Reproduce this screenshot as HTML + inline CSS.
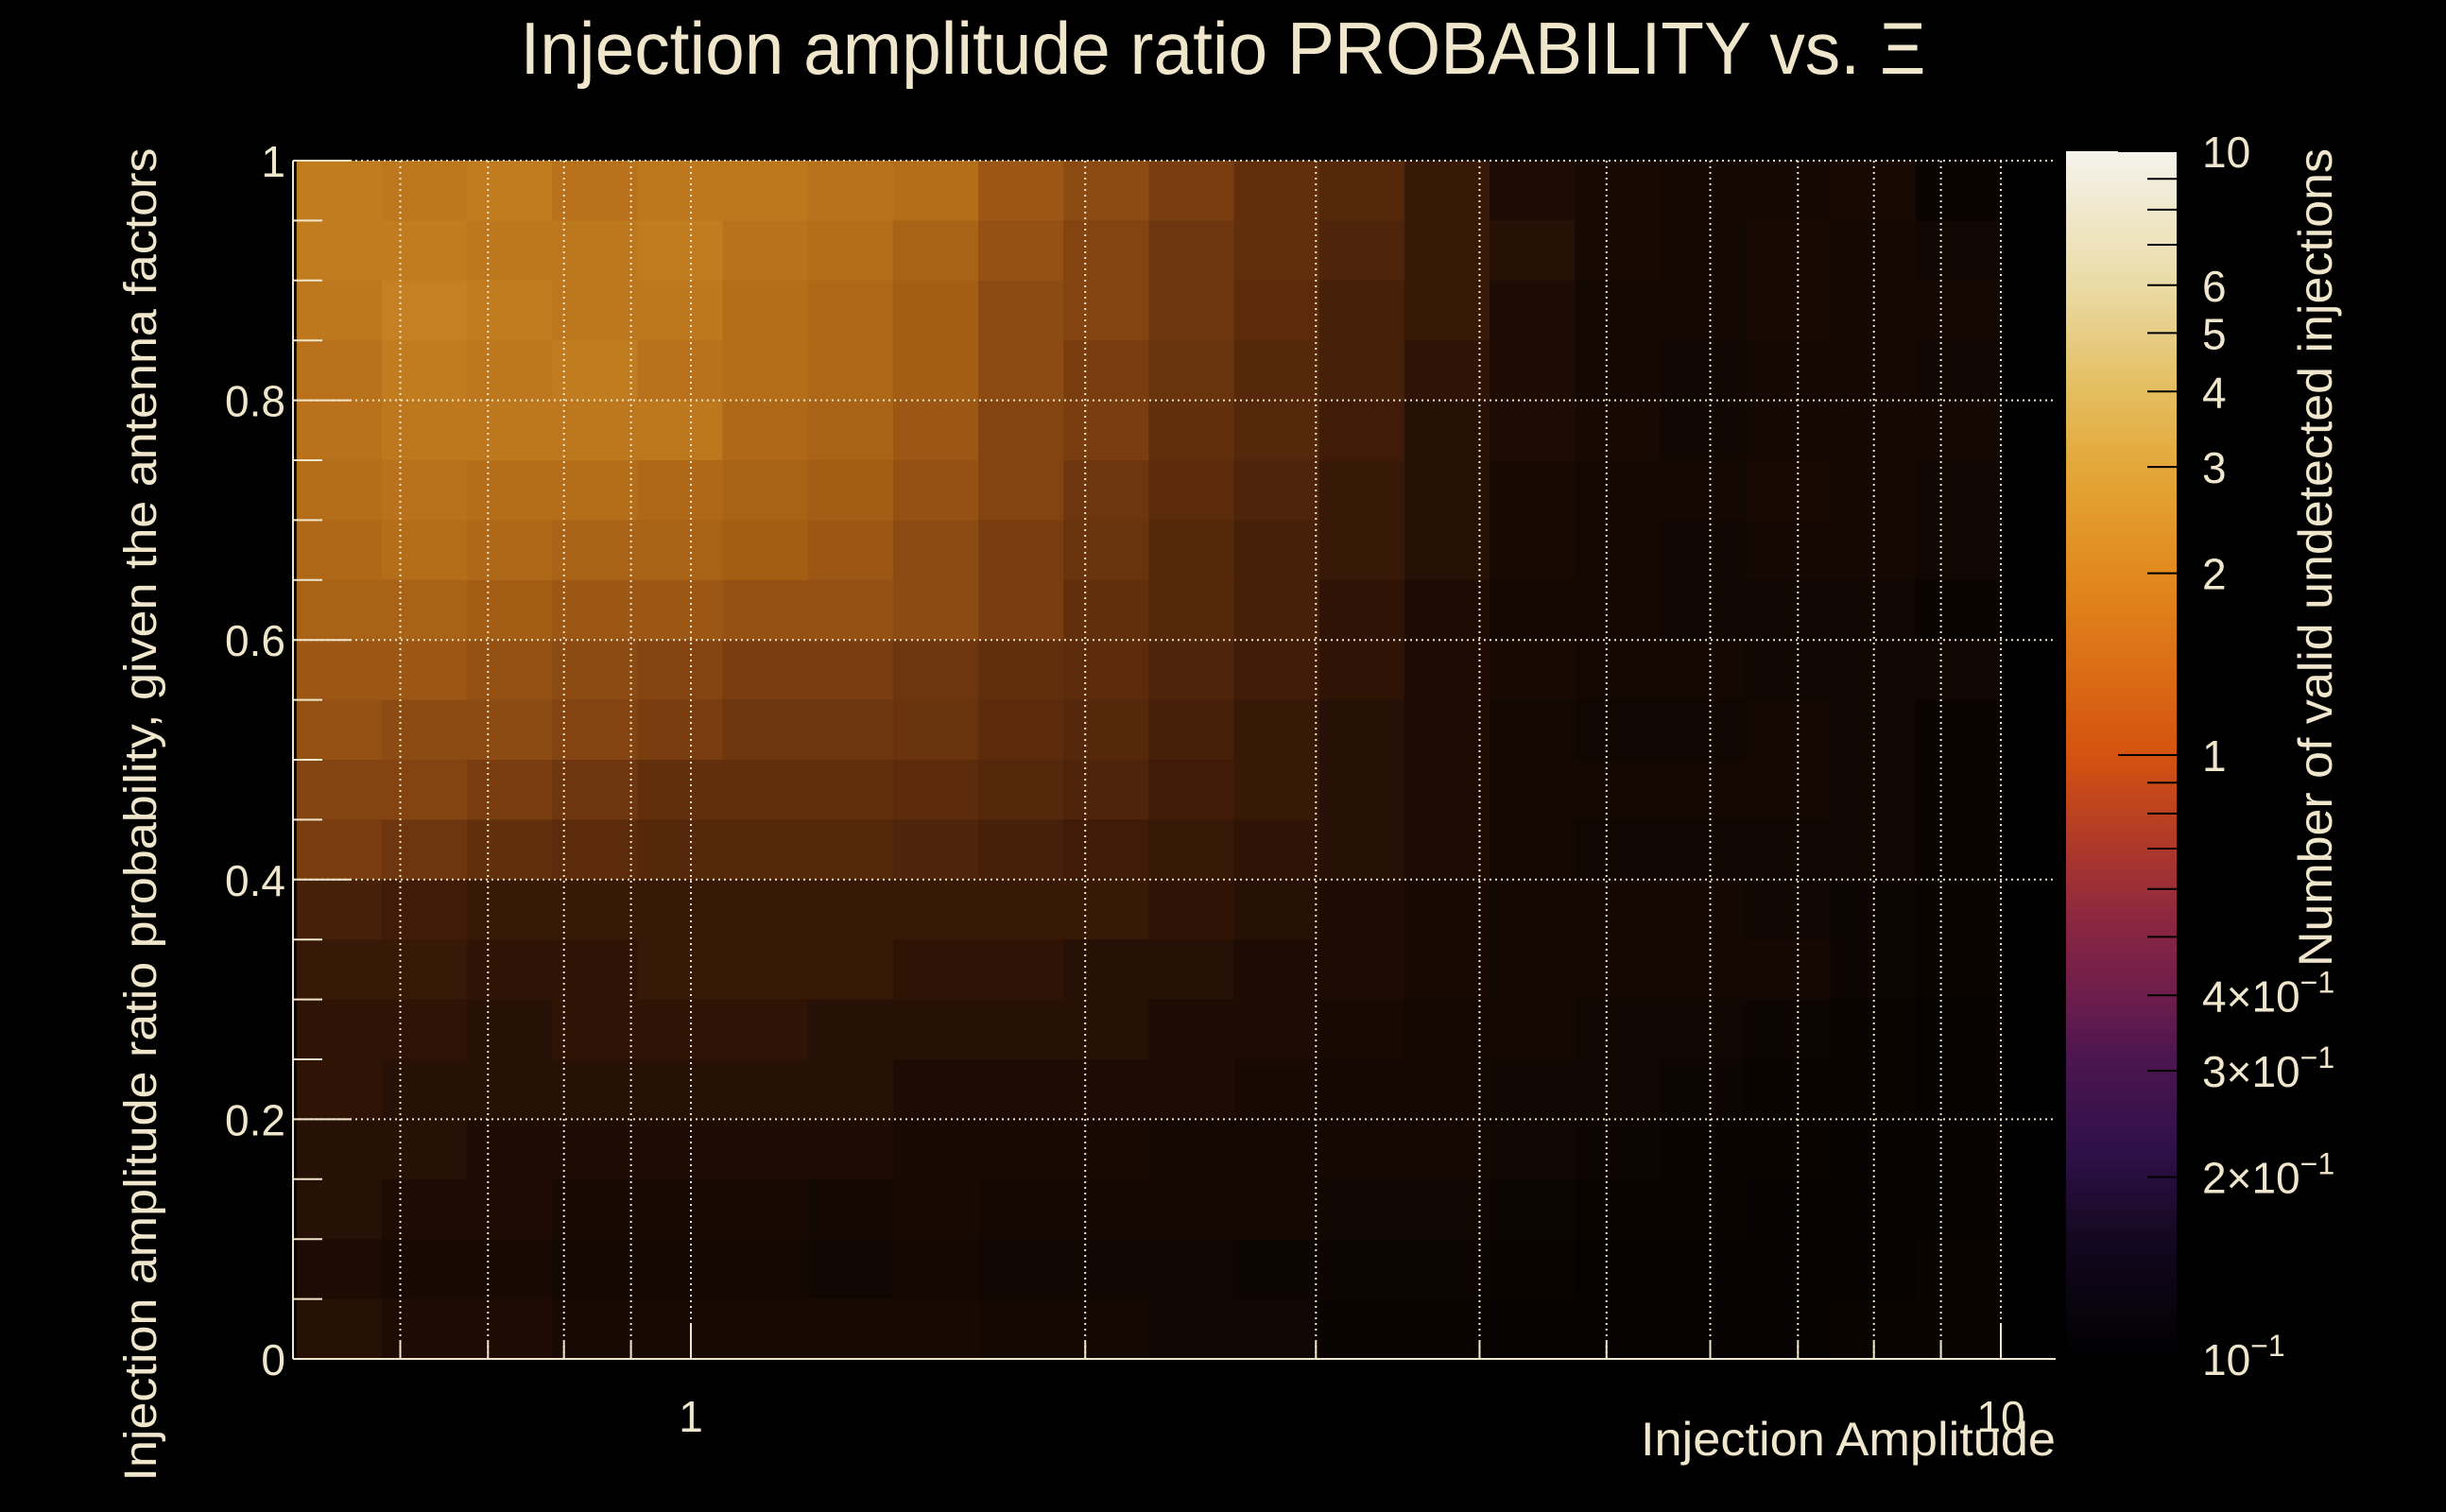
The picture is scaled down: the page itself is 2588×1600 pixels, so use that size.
<!DOCTYPE html>
<html><head><meta charset="utf-8"><style>
html,body{margin:0;padding:0;background:#000;}
svg{display:block;}
text{font-family:"Liberation Sans",sans-serif;fill:#f0e6cc;}
</style></head><body>
<svg id="chart" width="2588" height="1600" viewBox="0 0 2588 1600" xmlns="http://www.w3.org/2000/svg">
<defs>
<linearGradient id="cbgrad" x1="0" y1="1" x2="0" y2="0">
<stop offset="0" stop-color="#000000"/>
<stop offset="0.1" stop-color="#140820"/>
<stop offset="0.17" stop-color="#2e1048"/>
<stop offset="0.25" stop-color="#4d1650"/>
<stop offset="0.3" stop-color="#6d1d4c"/>
<stop offset="0.36" stop-color="#8a2642"/>
<stop offset="0.43" stop-color="#b13a28"/>
<stop offset="0.5" stop-color="#d5530f"/>
<stop offset="0.65" stop-color="#e28a1e"/>
<stop offset="0.74" stop-color="#e4a83a"/>
<stop offset="0.8" stop-color="#e4bd5e"/>
<stop offset="0.89" stop-color="#eadba6"/>
<stop offset="1" stop-color="#f5f3ec"/>
</linearGradient>
</defs>
<rect x="0" y="0" width="2588" height="1600" fill="#000"/>
<g id="cells"></g>
<g id="grid"></g>
<g id="axes"></g>
<text x="1294" y="78" font-size="78" text-anchor="middle" textLength="1487" lengthAdjust="spacingAndGlyphs">Injection amplitude ratio PROBABILITY vs.  Ξ</text>
<text x="2175" y="1540" font-size="50" text-anchor="end" textLength="439" lengthAdjust="spacingAndGlyphs">Injection Amplitude</text>
<text transform="translate(165,862) rotate(-90)" font-size="48" text-anchor="middle" textLength="1411" lengthAdjust="spacingAndGlyphs">Injection amplitude ratio probability, given the antenna factors</text>
<text transform="translate(2467,157) rotate(-90)" font-size="50" text-anchor="end" textLength="866" lengthAdjust="spacingAndGlyphs">Number of valid undetected injections</text>
<rect x="2186" y="160" width="117" height="1278" fill="url(#cbgrad)"/>
<g id="cbar"></g>
</svg>
<script>
// Coarse-binned average counts per block (20 x-blocks log-spaced 0.5..10, 20 y-blocks 0..1, top row first)
const row00=[1.9,1.8,1.9,1.7,1.8,1.8,1.7,1.6,1.2,1.0,0.8,0.6,0.5,0.3,0.15,0.12,0.1,0.1,0.12,0.05];
const row01=[1.9,1.9,1.8,1.8,1.9,1.7,1.6,1.4,1.1,0.9,0.7,0.6,0.45,0.3,0.2,0.12,0.1,0.12,0.1,0.08];
const row02=[1.8,2.0,1.9,1.8,1.8,1.6,1.5,1.3,1.0,0.9,0.7,0.55,0.4,0.3,0.15,0.1,0.1,0.12,0.1,0.1];
const row03=[1.7,1.9,1.8,1.9,1.7,1.6,1.5,1.3,1.0,0.8,0.65,0.5,0.4,0.25,0.15,0.1,0.08,0.1,0.1,0.08];
const row04=[1.7,1.8,1.8,1.8,1.8,1.5,1.4,1.2,0.9,0.8,0.6,0.5,0.35,0.2,0.15,0.12,0.08,0.1,0.1,0.1];
const row05=[1.6,1.7,1.6,1.6,1.5,1.4,1.3,1.1,0.9,0.7,0.55,0.45,0.3,0.2,0.12,0.1,0.1,0.12,0.1,0.08];
const row06=[1.5,1.6,1.5,1.4,1.4,1.3,1.2,1.0,0.8,0.65,0.5,0.4,0.3,0.2,0.12,0.1,0.08,0.1,0.1,0.08];
const row07=[1.4,1.4,1.3,1.2,1.2,1.1,1.1,1.0,0.8,0.6,0.5,0.4,0.25,0.15,0.1,0.1,0.08,0.08,0.08,0.05];
const row08=[1.2,1.2,1.1,1.0,0.9,0.8,0.8,0.7,0.6,0.55,0.45,0.35,0.25,0.15,0.12,0.1,0.1,0.08,0.08,0.08];
const row09=[1.1,1.0,1.0,0.9,0.8,0.7,0.7,0.65,0.55,0.5,0.4,0.3,0.2,0.15,0.1,0.08,0.08,0.1,0.08,0.05];
const row10=[0.9,0.9,0.8,0.7,0.6,0.6,0.6,0.55,0.5,0.45,0.35,0.3,0.2,0.15,0.1,0.1,0.1,0.1,0.08,0.05];
const row11=[0.8,0.7,0.6,0.55,0.5,0.5,0.5,0.45,0.4,0.35,0.3,0.25,0.2,0.15,0.1,0.08,0.08,0.08,0.08,0.05];
const row12=[0.4,0.35,0.3,0.3,0.3,0.3,0.3,0.3,0.3,0.3,0.25,0.2,0.15,0.12,0.1,0.1,0.1,0.08,0.06,0.05];
const row13=[0.3,0.3,0.25,0.25,0.3,0.3,0.3,0.25,0.25,0.2,0.2,0.15,0.15,0.12,0.1,0.1,0.1,0.1,0.06,0.05];
const row14=[0.25,0.25,0.2,0.25,0.25,0.25,0.2,0.2,0.2,0.2,0.15,0.15,0.12,0.1,0.1,0.08,0.08,0.06,0.05,0.03];
const row15=[0.25,0.2,0.2,0.2,0.2,0.2,0.2,0.15,0.15,0.15,0.15,0.12,0.1,0.1,0.08,0.08,0.06,0.05,0.05,0.03];
const row16=[0.2,0.2,0.15,0.15,0.15,0.15,0.15,0.12,0.12,0.12,0.1,0.1,0.1,0.1,0.08,0.06,0.05,0.05,0.03,0.03];
const row17=[0.2,0.15,0.15,0.12,0.12,0.12,0.1,0.12,0.1,0.1,0.1,0.1,0.08,0.08,0.06,0.05,0.05,0.03,0.03,0.03];
const row18=[0.15,0.12,0.12,0.1,0.1,0.1,0.08,0.1,0.08,0.08,0.08,0.06,0.06,0.06,0.05,0.03,0.03,0.03,0.03,0.05];
const row19=[0.2,0.15,0.15,0.12,0.12,0.12,0.12,0.12,0.1,0.1,0.08,0.08,0.05,0.05,0.03,0.03,0.03,0.03,0.05,0.05];
const densityRows=[row00,row01,row02,row03,row04,row05,row06,row07,row08,row09,row10,row11,row12,row13,row14,row15,row16,row17,row18,row19];
const xBinMin=0.5, xBinMax=10;
const yTickValues=[0,0.2,0.4,0.6,0.8,1];
const yTickLabels=["0","0.2","0.4","0.6","0.8","1"];
const xGridValues=[0.6,0.7,0.8,0.9,1,2,3,4,5,6,7,8,9,10];
const xLabelValues=[1,10];
const xLabelTexts=["1","10"];
const cbTickValues=[0.2,0.3,0.4,0.5,0.6,0.7,0.8,0.9,1,2,3,4,5,6,7,8,9,10];
const cbLabelValues=[10,6,5,4,3,2,1,0.4,0.3,0.2,0.1];
const cbLabelMant=["10","6","5","4","3","2","1","4×10","3×10","2×10","10"];
const cbLabelExp=["","","","","","","","−1","−1","−1","−1"];

const NS="http://www.w3.org/2000/svg";
const X0=310,X1=2175,Y0=1438,Y1=170;
function xScale(v){return 731+1386*Math.log10(v);}
function yScale(v){return Y0-(Y0-Y1)*v;}
function cbScale(v){return 160+639*(1-Math.log10(v));}
const cmapStops=[[1,[212,81,26]],[2,[226,137,30]],[3,[229,168,58]],[4,[228,188,94]],[6,[233,214,150]],[10,[245,243,236]]];
function cmapRGB(d){
  if(d<=1) return cmapStops[0][1];
  for(let i=0;i<cmapStops.length-1;i++){
    const [a,ca]=cmapStops[i],[b,cb]=cmapStops[i+1];
    if(d<=b){const t=(Math.log(d)-Math.log(a))/(Math.log(b)-Math.log(a));
      return [ca[0]+(cb[0]-ca[0])*t,ca[1]+(cb[1]-ca[1])*t,ca[2]+(cb[2]-ca[2])*t];}
  }
  return [245,243,236];
}
// average block colour: fraction of occupied bins (Poisson) times colour of mean non-empty count
function colorFor(d){
  if(d<=0) return "rgb(0,0,0)";
  const occ=1-Math.exp(-d);
  const c=cmapRGB(d/occ);
  return `rgb(${Math.round(c[0]*occ)},${Math.round(c[1]*occ)},${Math.round(c[2]*occ)})`;
}
function mk(tag,attrs,parent){const e=document.createElementNS(NS,tag);for(const k in attrs)e.setAttribute(k,attrs[k]);parent.appendChild(e);return e;}

const cells=document.getElementById('cells');
const nRows=densityRows.length;
densityRows.forEach((row,r)=>{
  const nCols=row.length;
  const lmin=Math.log10(xBinMin),lmax=Math.log10(xBinMax);
  row.forEach((d,c)=>{
    const xa=xScale(Math.pow(10,lmin+(lmax-lmin)*c/nCols));
    const xb=xScale(Math.pow(10,lmin+(lmax-lmin)*(c+1)/nCols));
    const ya=yScale(1-r/nRows), yb=yScale(1-(r+1)/nRows);
    const e=mk('rect',{x:xa.toFixed(2),y:ya.toFixed(2),width:(xb-xa+0.6).toFixed(2),height:(yb-ya+0.6).toFixed(2),fill:colorFor(d)},cells);
    
    
  });
});

const grid=document.getElementById('grid');
const dot={stroke:'#f0e6cc','stroke-width':2,'stroke-dasharray':'2 4'};
xGridValues.forEach(v=>{
  const x=xScale(v);
  const e=mk('line',Object.assign({x1:x,y1:Y1,x2:x,y2:Y0},dot),grid);
  
  
});
yTickValues.forEach(v=>{
  const y=yScale(v);
  const e=mk('line',Object.assign({x1:X0,y1:y,x2:X1,y2:y},dot),grid);
  
  
});

const axes=document.getElementById('axes');
const ax1=mk('line',{x1:X0,y1:Y1,x2:X0,y2:Y0,stroke:'#f0e6cc','stroke-width':2},axes);


const ax2=mk('line',{x1:X0,y1:Y0,x2:X1,y2:Y0,stroke:'#f0e6cc','stroke-width':2},axes);


for(let i=0;i<=20;i++){
  const v=i*0.05,y=yScale(v);
  const major=(i%4===0);
  const t=mk('line',{x1:X0,y1:y,x2:X0+(major?62:31),y2:y,stroke:'#f0e6cc','stroke-width':2},axes);
  
  
}
yTickValues.forEach((v,i)=>{
  const t=mk('text',{x:302,y:yScale(v)+17,'font-size':46,'text-anchor':'end'},axes);
  t.textContent=yTickLabels[i];
  
  
});
xGridValues.forEach(v=>{
  const x=xScale(v);const major=(v===1||v===10);
  const t=mk('line',{x1:x,y1:Y0,x2:x,y2:Y0-(major?36:18),stroke:'#f0e6cc','stroke-width':2},axes);
  
  
});
xLabelValues.forEach((v,i)=>{
  const t=mk('text',{x:xScale(v),y:1515,'font-size':46,'text-anchor':'middle'},axes);
  t.textContent=xLabelTexts[i];
  
  
});

const cbar=document.getElementById('cbar');
cbTickValues.forEach(v=>{
  const y=cbScale(v);const major=(v===1||v===10);
  const t=mk('line',{x1:2303-(major?62:31),y1:y,x2:2303,y2:y,stroke:'#000','stroke-width':2},cbar);
  
  
});
cbLabelValues.forEach((v,i)=>{
  const t=mk('text',{x:2330,y:cbScale(v)+17,'font-size':46},cbar);
  t.textContent=cbLabelMant[i];
  if(cbLabelExp[i]){const s=mk('tspan',{dy:-20,'font-size':32},t);s.textContent=cbLabelExp[i];}
  
  
});
</script>
</body></html>
